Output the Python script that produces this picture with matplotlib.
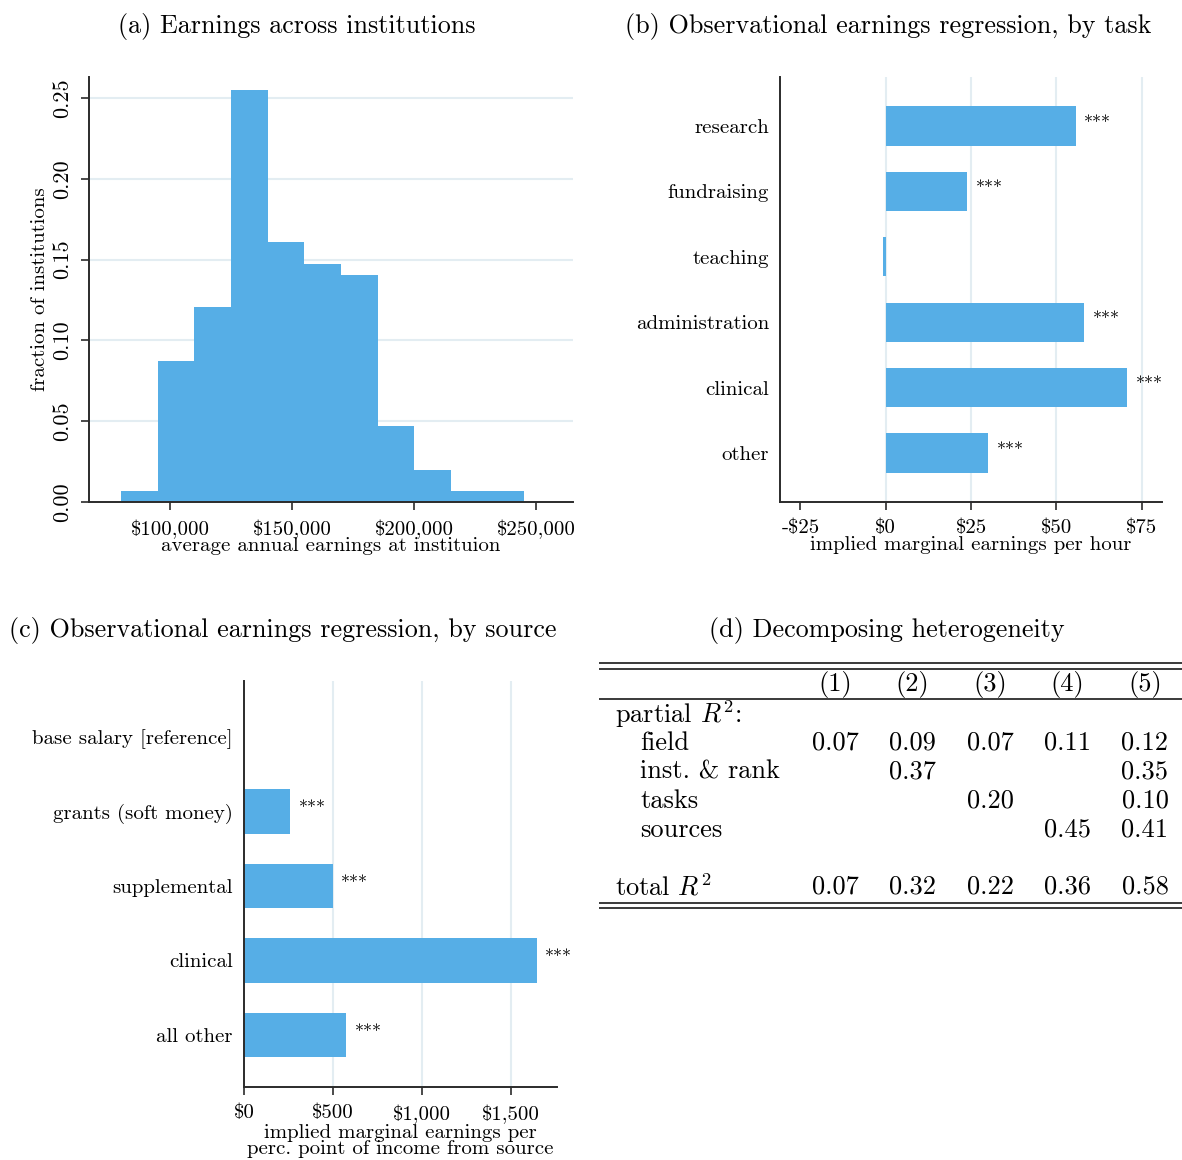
import numpy as np
import matplotlib
matplotlib.use('Agg')
import matplotlib.pyplot as plt
from matplotlib.ticker import FuncFormatter

plt.rcParams['font.family'] = ['cmr10', 'DejaVu Serif']
plt.rcParams['mathtext.fontset'] = 'cm'
plt.rcParams['axes.unicode_minus'] = False
plt.rcParams['axes.formatter.use_mathtext'] = True

# (a) histogram of average annual earnings
hist_edges = [80000, 95000, 110000, 125000, 140000, 155000, 170000,
              185000, 200000, 215000, 230000, 245000]
hist_frac = [0.0066, 0.0872, 0.1206, 0.2547, 0.1609, 0.1475, 0.1407,
             0.0469, 0.0200, 0.0066, 0.0066]

# (b) earnings by task
tasks = ['research', 'fundraising', 'teaching', 'administration', 'clinical', 'other']
task_coef = [55.7, 23.9, -0.9, 58.2, 70.8, 30.1]
task_sig = ['***', '***', '', '***', '***', '***']

# (c) earnings by source
sources = ['base salary [reference]', 'grants (soft money)', 'supplemental',
           'clinical', 'all other']
source_coef = [np.nan, 260, 500, 1643, 574]
source_sig = ['', '***', '***', '***', '***']

# (d) table
col_labels = ['(1)', '(2)', '(3)', '(4)', '(5)']
row_labels = ['field', 'inst. & rank', 'tasks', 'sources']
partial_r2 = [['0.07', '0.09', '0.07', '0.11', '0.12'],
              ['', '0.37', '', '', '0.35'],
              ['', '', '0.20', '', '0.10'],
              ['', '', '', '0.45', '0.41']]
total_r2 = ['0.07', '0.32', '0.22', '0.36', '0.58']

BAR = '#56aee6'
GRID = '#e3edf2'
SPINE = '#2b2b2b'
W, H = 1182, 1160

fig = plt.figure(figsize=(W / 100, H / 100), dpi=100)


def px_axes(l, t, r, b):
    return fig.add_axes([l / W, 1 - b / H, (r - l) / W, (b - t) / H])


def style(ax):
    for s in ['top', 'right']:
        ax.spines[s].set_visible(False)
    for s in ['left', 'bottom']:
        ax.spines[s].set_color(SPINE)
        ax.spines[s].set_linewidth(1.4)
    ax.tick_params(colors=SPINE, labelcolor='black', length=6, width=1.2,
                   labelsize=15, pad=6.5)


def dollars(v, p):
    sign = '-' if v < 0 else ''
    return f'{sign}${abs(v):,.0f}'


# ---- (a)
ax = px_axes(89, 77, 573, 502)
style(ax)
ax.stairs(hist_frac, hist_edges, fill=True, color=BAR, zorder=2)
ax.set_xlim(66800, 265000)
ax.set_ylim(0, 0.263)
ax.set_xticks([100000, 150000, 200000, 250000])
ax.xaxis.set_major_formatter(FuncFormatter(dollars))
ax.set_yticks([0, 0.05, 0.10, 0.15, 0.20, 0.25])
ax.set_yticklabels(['0.00', '0.05', '0.10', '0.15', '0.20', '0.25'],
                   rotation=90, va='center', fontsize=16)
for y in [0.05, 0.10, 0.15, 0.20, 0.25]:
    ax.axhline(y, color=GRID, lw=1.5, zorder=1)
ax.set_xlabel('average annual earnings at instituion', fontsize=15, labelpad=-1)
ax.set_ylabel('fraction of institutions', fontsize=15, labelpad=2)

# ---- (b)
ax = px_axes(780, 77, 1162, 502)
style(ax)
yb = np.arange(len(tasks))
for x in [0, 25, 50, 75]:
    ax.axvline(x, color=GRID, lw=1.5, zorder=1)
ax.barh(yb, task_coef, height=0.6, color=BAR, zorder=2)
for i, (v, s) in enumerate(zip(task_coef, task_sig)):
    if s:
        ax.annotate(s, (v, i), xytext=(6, 2), textcoords='offset points',
                    va='center', ha='left', fontsize=13)
ax.set_yticks(yb)
ax.set_yticklabels(tasks)
ax.tick_params(axis='y', length=0, pad=8)
ax.set_ylim(len(tasks) - 0.25, -0.75)
ax.set_xlim(-31, 81)
ax.set_xticks([-25, 0, 25, 50, 75])
ax.xaxis.set_major_formatter(FuncFormatter(dollars))
ax.set_xlabel('implied marginal earnings per hour', fontsize=15, labelpad=-1)

# ---- (c)
ax = px_axes(244, 681, 557, 1087)
style(ax)
yc = np.arange(len(sources))
for x in [500, 1000, 1500]:
    ax.axvline(x, color=GRID, lw=1.5, zorder=1)
ax.barh(yc, np.nan_to_num(source_coef), height=0.6, color=BAR, zorder=2)
for i, (v, s) in enumerate(zip(source_coef, source_sig)):
    if s:
        ax.annotate(s, (v, i), xytext=(6, 2), textcoords='offset points',
                    va='center', ha='left', fontsize=13)
ax.set_yticks(yc)
ax.set_yticklabels(sources)
ax.tick_params(axis='y', length=0, pad=8)
ax.set_ylim(len(sources) - 0.3, -0.75)
ax.set_xlim(0, 1758)
ax.set_xticks([0, 500, 1000, 1500])
ax.xaxis.set_major_formatter(FuncFormatter(dollars))
ax.set_xlabel('implied marginal earnings per\nperc. point of income from source',
              fontsize=15, labelpad=0.5, linespacing=0.85)

# ---- (d) table
tx = px_axes(599, 650, 1182, 920)
tx.set_xlim(599, 1182)
tx.set_ylim(920, 650)
tx.axis('off')
col_x = 835 + 77.5 * np.arange(len(col_labels))
fs = 19
for y in [663, 669, 699, 903, 908]:
    tx.axhline(y, color=SPINE, lw=1.3)
for cx, lab in zip(col_x, col_labels):
    tx.text(cx, 684, lab, ha='center', va='center', fontsize=fs)
tx.text(615, 714, 'partial $R^2$:', ha='left', va='center', fontsize=fs)
for k, (lab, vals) in enumerate(zip(row_labels, partial_r2)):
    ry = 743 + 29 * k
    tx.text(640, ry, lab, ha='left', va='center', fontsize=fs)
    for cx, v in zip(col_x, vals):
        tx.text(cx, ry, v, ha='center', va='center', fontsize=fs)
tx.text(615, 887, 'total $R^2$', ha='left', va='center', fontsize=fs)
for cx, v in zip(col_x, total_r2):
    tx.text(cx, 887, v, ha='center', va='center', fontsize=fs)

# titles
tfs = 18.8
fig.text(297 / W, 1 - 27 / H, '(a) Earnings across institutions', ha='center', va='center', fontsize=tfs)
fig.text(888 / W, 1 - 27 / H, '(b) Observational earnings regression, by task', ha='center', va='center', fontsize=tfs)
fig.text(283 / W, 1 - 631 / H, '(c) Observational earnings regression, by source', ha='center', va='center', fontsize=tfs)
fig.text(887 / W, 1 - 631 / H, '(d) Decomposing heterogeneity', ha='center', va='center', fontsize=tfs)

fig.savefig('out.png', dpi=100)
